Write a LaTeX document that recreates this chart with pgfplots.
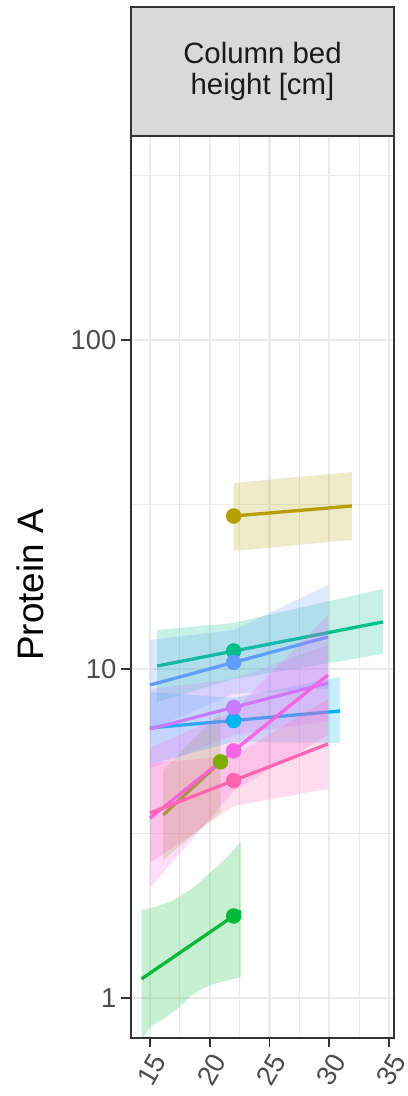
\documentclass[border=0pt]{standalone}
\usepackage{fontspec}
\setmainfont{Liberation Sans}
\usepackage{pgfplots}
\pgfplotsset{compat=1.18}

\definecolor{cGold}{HTML}{B79F00}
\definecolor{cYgreen}{HTML}{7CAE00}
\definecolor{cGreen}{HTML}{00BA38}
\definecolor{cTeal}{HTML}{00C08B}
\definecolor{cCyan}{HTML}{00B4F0}
\definecolor{cBlue}{HTML}{619CFF}
\definecolor{cPurple}{HTML}{C77CFF}
\definecolor{cMagenta}{HTML}{F564E3}
\definecolor{cPink}{HTML}{FF64B0}
\definecolor{gridc}{HTML}{EBEBEB}
\definecolor{panelc}{HTML}{333333}
\definecolor{stripc}{HTML}{D9D9D9}
\definecolor{tickc}{HTML}{4D4D4D}
\definecolor{stript}{HTML}{1A1A1A}

\pgfplotsset{
  band/.style={draw=none, fill=#1, fill opacity=0.22, forget plot},
  fit/.style={draw=#1, line width=3.3bp, no marks, forget plot},
  pt/.style={only marks, mark=*, mark size=7.5bp, color=#1, forget plot},
}

\begin{document}
\begin{tikzpicture}
\path[use as bounding box] (0,0) rectangle (408bp,1096bp);

\begin{axis}[
  at={(131bp,58bp)}, anchor=south west, scale only axis,
  width=263bp, height=902bp,
  xmin=13.41, xmax=35.42,
  ymode=log, log basis y=10, ymin=0.7557, ymax=416.9,
  xtick={15,20,25,30,35}, xticklabels={15,20,25,30,35},
  minor xtick={12.5,17.5,22.5,27.5,32.5},
  ytick={1,10,100}, yticklabels={1,10,100},
  minor ytick={3.1623,31.623,316.23},
  grid=both,
  major grid style={draw=gridc, line width=2.2bp},
  minor grid style={draw=gridc, line width=1.2bp},
  axis line style={draw=none},
  tick style={draw=panelc, line width=1.8bp},
  tick align=outside, major tick length=9.5bp, minor tick length=0pt,
  xtick pos=left, ytick pos=left,
  tick label style={font=\fontsize{27.5}{27.5}\selectfont, text=tickc},
  xticklabel style={rotate=60, anchor=north east, inner sep=3bp},
  yticklabel style={anchor=east, inner sep=5bp},
]

% gold group
\addplot[band=cGold] coordinates {(22,36.75) (31.9,39.7) (31.9,24.67) (22,22.84)};
\addplot[fit=cGold] coordinates {(22,29.17) (31.9,31.29)};

% yellow-green group
\addplot[band=cYgreen] coordinates {(16.1,4.93) (20.9,7.40) (20.9,3.67) (16.1,2.63)};
\addplot[fit=cYgreen] coordinates {(16.1,3.60) (20.9,5.22)};

% green group
\addplot[band=cGreen] coordinates {(14.3,1.851) (15.5,1.891) (17,1.986) (18.5,2.145)
  (20,2.399) (21.3,2.646) (22.6,2.980)
  (22.6,1.158) (21.3,1.126) (20,1.095) (18.5,1.021) (17.5,0.939) (16,0.857)
  (15,0.816) (14.3,0.745)};
\addplot[fit=cGreen] coordinates {(14.3,1.143) (22.6,1.838)};

% teal group
\addplot[band=cTeal] coordinates {(15.6,13.14) (22,13.80) (34.5,17.51)
  (34.5,11.11) (22,9.32) (15.6,7.94)};
\addplot[fit=cTeal] coordinates {(15.6,10.21) (34.5,13.90)};

% cyan group
\addplot[band=cCyan] coordinates {(15,8.51) (22,8.16) (30.9,9.46)
  (30.9,5.96) (22,6.00) (15,5.14)};
\addplot[fit=cCyan] coordinates {(15,6.62) (30.9,7.45)};

% blue group
\addplot[band=cBlue] coordinates {(15,12.25) (22,13.14) (29.9,18.00)
  (29.9,8.70) (22,8.40) (15,6.53)};
\addplot[fit=cBlue] coordinates {(15,8.94) (29.9,12.51)};

% purple group
\addplot[band=cPurple] coordinates {(15,8.70) (22,9.32) (29.9,11.83)
  (29.9,6.95) (22,6.30) (15,4.97)};
\addplot[fit=cPurple] coordinates {(15,6.57) (29.9,9.07)};

% magenta group
\addplot[band=cMagenta] coordinates {(15,5.75) (22,7.45) (29.9,14.59)
  (29.9,6.30) (22,4.26) (15,2.16)};
\addplot[fit=cMagenta] coordinates {(15,3.52) (29.9,9.59)};

% pink group
\addplot[band=cPink] coordinates {(15,5.18) (22,5.44) (29.9,8.11)
  (29.9,4.32) (22,3.83) (15,2.57)};
\addplot[fit=cPink] coordinates {(15,3.65) (29.9,5.92)};

% group summary points
\addplot[pt=cGold] coordinates {(22,29.17)};
\addplot[pt=cYgreen] coordinates {(20.9,5.22)};
\addplot[pt=cGreen] coordinates {(22,1.775)};
\addplot[pt=cTeal] coordinates {(22,11.34)};
\addplot[pt=cCyan] coordinates {(22,6.97)};
\addplot[pt=cBlue] coordinates {(22,10.47)};
\addplot[pt=cPurple] coordinates {(22,7.64)};
\addplot[pt=cMagenta] coordinates {(22,5.64)};
\addplot[pt=cPink] coordinates {(22,4.58)};
\end{axis}

% panel border
\draw[panelc, line width=1.8bp] (131bp,58bp) rectangle (394bp,960bp);
% facet strip
\draw[fill=stripc, draw=panelc, line width=1.8bp] (131bp,960bp) rectangle (394bp,1089bp);
\node[align=center, text=stript, font=\fontsize{29.5}{31}\selectfont]
  at (262.5bp,1025bp) {Column bed\\height [cm]};
% y axis title
\node[rotate=90, font=\fontsize{37}{37}\selectfont] at (30bp,511bp) {Protein A};
\end{tikzpicture}
\end{document}
